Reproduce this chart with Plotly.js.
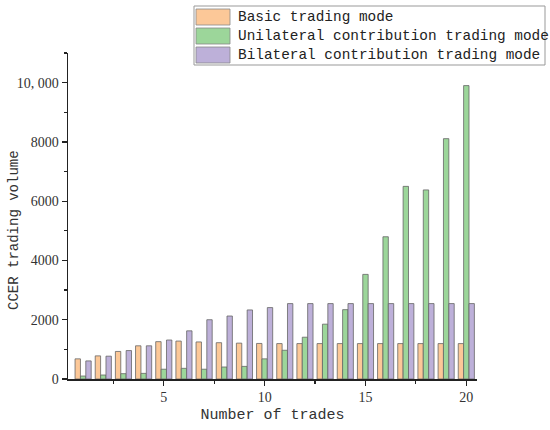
<!DOCTYPE html>
<html>
<head>
<meta charset="utf-8">
<script src="https://cdn.plot.ly/plotly-3.0.1.min.js"></script>
<style>html,body{margin:0;padding:0;background:#fff;}#chart{width:550px;height:430px;}</style>
</head>
<body>
<div id="chart"></div>
<script>
// trades 1..20
const trades = [1,2,3,4,5,6,7,8,9,10,11,12,13,14,15,16,17,18,19,20];
const basicMode = [680,780,930,1120,1260,1280,1250,1225,1210,1200,1195,1195,1195,1195,1195,1195,1195,1195,1195,1195];
const unilateralMode = [100,135,180,190,330,360,330,405,425,680,970,1410,1850,2340,3530,4800,6500,6380,8110,9900];
const bilateralMode = [610,770,960,1120,1315,1625,2000,2125,2330,2410,2545,2545,2545,2545,2545,2545,2545,2545,2545,2545];
const seriesNames = ["Basic trading mode","Unilateral contribution trading mode","Bilateral contribution trading mode"];
const yTickVals = [0,2000,4000,6000,8000,10000];
const yTickText = ["0","2000","4000","6000","8000","10, 000"];
const xTickVals = [5,10,15,20];

const colors = ["#fcc898","#9cd69a","#bdb0d9"];
const mono = "Liberation Mono, DejaVu Sans Mono, monospace";
const serif = "Liberation Serif, Times New Roman, serif";

// plot area in pixels, used to place the hand made legend
const L=68, R=477, T=53, B=379;
function px(x){return (x-L)/(R-L);}
function py(y){return (B-y)/(B-T);}

let traces=[basicMode,unilateralMode,bilateralMode].map((vals,i)=>({
  type:"bar",x:trades,y:vals,name:seriesNames[i],showlegend:false,
  marker:{color:colors[i],line:{color:"#666",width:0.8}}
}));

let shapes=[{type:"rect",xref:"paper",yref:"paper",x0:px(194),x1:px(545),y0:py(65),y1:py(6),line:{color:"#999",width:1},fillcolor:"#fff"}];
let annotations=[];
seriesNames.forEach((n,i)=>{
  let top=9+i*19;
  shapes.push({type:"rect",xref:"paper",yref:"paper",x0:px(196),x1:px(230),y0:py(top+16),y1:py(top),line:{color:"#888",width:0.8},fillcolor:colors[i]});
  annotations.push({xref:"paper",yref:"paper",x:px(236),y:py(top+8),xanchor:"left",yanchor:"middle",showarrow:false,text:n,font:{family:mono,size:14.4,color:"#222"}});
});
// y axis title placed by hand so the plot margin stays fixed
annotations.push({xref:"paper",yref:"paper",x:px(14),y:py(230),xanchor:"center",yanchor:"middle",textangle:-90,showarrow:false,
  text:"CCER trading volume",font:{family:mono,size:14,color:"#333"}});

let layout={
  width:550,height:430,
  margin:{l:L,r:550-R,t:T,b:430-B},
  paper_bgcolor:"#fff",plot_bgcolor:"#fff",
  barmode:"group",bargap:0.2,bargroupgap:0,
  font:{family:serif,size:14,color:"#333"},
  xaxis:{range:[0.25,20.53],tickvals:xTickVals,ticks:"outside",ticklen:5,tickwidth:1.2,tickcolor:"#222",
    showline:true,linecolor:"#222",linewidth:1.5,showgrid:false,zeroline:false,
    minor:{dtick:2.5,tick0:0,ticks:"outside",ticklen:3,tickcolor:"#222",showgrid:false},
    tickfont:{family:serif,size:14,color:"#333"},
    title:{text:"Number of trades",font:{family:mono,size:15,color:"#333"},standoff:4}},
  yaxis:{range:[0,11000],tickvals:yTickVals,ticktext:yTickText,ticks:"outside",ticklen:5,tickwidth:1.2,tickcolor:"#222",
    showline:true,linecolor:"#222",linewidth:1.5,showgrid:false,zeroline:false,
    minor:{dtick:1000,ticks:"outside",ticklen:3,tickcolor:"#222",showgrid:false},
    tickfont:{family:serif,size:14,color:"#333"}},
  shapes:shapes,annotations:annotations
};
Plotly.newPlot("chart",traces,layout,{displayModeBar:false,staticPlot:true});
</script>
</body>
</html>
